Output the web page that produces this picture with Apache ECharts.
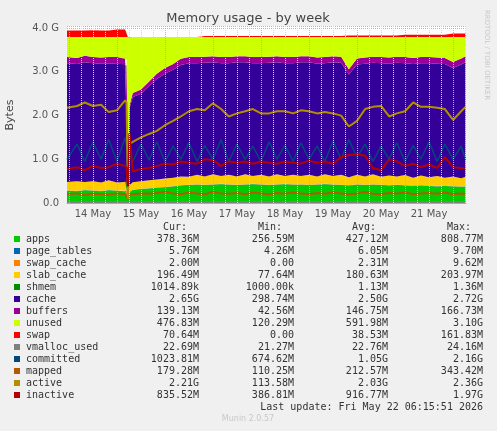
<!DOCTYPE html>
<html><head><meta charset="utf-8">
<script src="https://cdn.jsdelivr.net/npm/echarts@6/dist/echarts.min.js"></script>
<style>html,body{margin:0;padding:0;background:#F0F0F0}#c{width:497px;height:431px}</style>
</head><body><div id="c"></div>
<script>
const times=[13.96,14.17,14.33,14.5,14.67,14.83,15.0,15.17,15.2,15.23,15.26,15.33,15.5,15.67,15.83,16.0,16.17,16.33,16.5,16.67,16.83,17.0,17.17,17.33,17.5,17.67,17.83,18.0,18.17,18.33,18.5,18.67,18.83,19.0,19.17,19.33,19.5,19.67,19.83,20.0,20.17,20.33,20.5,20.67,20.83,21.0,21.17,21.33,21.5,21.67,21.83,22.0,22.17,22.26];
const apps=[.28,.27,.29,.28,.27,.29,.28,.27,.28,.10,.25,.30,.32,.33,.35,.36,.38,.40,.41,.42,.41,.42,.43,.42,.41,.42,.43,.42,.41,.42,.43,.42,.42,.41,.42,.43,.42,.41,.40,.42,.41,.42,.41,.40,.41,.40,.39,.40,.39,.38,.39,.38,.37,.38];
const page_tables=[.006,.006,.006,.006,.006,.006,.006,.006,.006,.004,.005,.005,.006,.006,.006,.006,.006,.006,.006,.006,.006,.006,.006,.006,.006,.006,.006,.006,.006,.006,.006,.006,.006,.006,.006,.006,.006,.006,.006,.006,.006,.006,.006,.006,.006,.006,.006,.006,.006,.006,.006,.006,.006,.006];
const swap_cache=[.002,.002,.002,.003,.002,.002,.002,.003,.002,0,.001,.001,.002,.002,.002,.002,.002,.002,.002,.002,.002,.002,.002,.002,.002,.002,.002,.002,.002,.002,.002,.002,.002,.002,.002,.002,.002,.002,.002,.002,.002,.002,.002,.002,.002,.002,.002,.002,.002,.002,.002,.002,.002,.002];
const slab_cache=[.19,.22,.18,.21,.19,.22,.18,.2,.2,.08,.15,.17,.17,.18,.18,.19,.19,.2,.18,.22,.19,.23,.18,.22,.19,.23,.18,.22,.19,.23,.18,.22,.19,.23,.18,.22,.19,.23,.18,.22,.19,.23,.18,.22,.19,.23,.18,.22,.19,.23,.18,.22,.19,.21];
const shmem=[.001,.001,.001,.001,.001,.001,.001,.001,.001,.001,.001,.001,.001,.001,.001,.001,.001,.001,.001,.001,.001,.001,.001,.001,.001,.001,.001,.001,.001,.001,.001,.001,.001,.001,.001,.001,.001,.001,.001,.001,.001,.001,.001,.001,.001,.001,.001,.001,.001,.001,.001,.001,.001,.001];
const cache=[2.72,2.68,2.74,2.70,2.72,2.67,2.73,2.70,2.66,0.30,1.75,1.95,2.00,2.15,2.30,2.40,2.47,2.55,2.60,2.55,2.60,2.56,2.58,2.55,2.61,2.56,2.58,2.55,2.60,2.56,2.58,2.55,2.60,2.57,2.58,2.54,2.60,2.56,2.35,2.52,2.58,2.55,2.60,2.56,2.60,2.56,2.60,2.57,2.61,2.57,2.60,2.48,2.60,2.62];
const buffers=[.14,.14,.15,.14,.14,.15,.14,.14,.14,.04,.07,.09,.10,.11,.12,.13,.13,.14,.14,.14,.14,.14,.14,.14,.14,.14,.14,.14,.14,.14,.14,.14,.14,.14,.14,.14,.14,.14,.12,.14,.14,.14,.14,.14,.14,.14,.14,.14,.14,.14,.14,.14,.14,.14];
const unused=[.46,.48,.43,.46,.47,.46,.46,.48,.51,3.27,1.57,1.28,1.20,1.02,.84,.71,.62,.50,.46,.46,.45,.44,.46,.46,.44,.44,.46,.46,.45,.44,.46,.46,.44,.44,.47,.46,.44,.45,.74,.49,.47,.45,.46,.47,.45,.46,.48,.46,.46,.47,.48,.57,.49,.44];
const swap=[.15,.15,.15,.15,.15,.15,.17,.17,.17,0,0,0,0,0,0,0,0,0,0,0,.02,.02,.02,.02,.02,.02,.02,.02,.02,.02,.02,.02,.02,.02,.02,.02,.02,.02,.035,.035,.035,.035,.035,.035,.035,.05,.05,.05,.05,.05,.05,.08,.08,.08];
const vmalloc_used=[.023,.023,.023,.023,.023,.023,.023,.023,.023,.021,.022,.022,.023,.023,.023,.023,.023,.023,.023,.023,.023,.023,.023,.023,.023,.023,.023,.023,.023,.023,.023,.023,.023,.023,.023,.023,.023,.023,.023,.023,.023,.023,.023,.023,.023,.023,.023,.023,.023,.023,.023,.023,.023,.023];
const committed=[1.0,1.35,0.95,1.4,1.0,1.45,0.95,1.5,1.3,0.7,1.1,0.95,1.35,0.98,1.4,0.95,1.3,1.0,1.38,0.95,1.32,1.0,1.45,0.95,1.35,1.0,1.3,0.95,1.4,1.0,1.32,0.95,1.38,1.0,1.3,0.95,1.42,1.0,1.45,1.05,1.35,0.95,1.3,1.0,1.38,0.95,1.32,1.0,1.4,0.95,1.35,1.0,1.3,1.0];
const mapped=[.2,.22,.18,.21,.2,.19,.22,.2,.2,.1,.18,.2,.22,.21,.23,.25,.22,.2,.24,.22,.2,.25,.22,.21,.23,.2,.24,.22,.2,.23,.21,.24,.22,.2,.23,.21,.24,.22,.2,.22,.25,.21,.2,.23,.22,.24,.2,.22,.23,.21,.24,.2,.22,.21];
const active=[2.18,2.22,2.3,2.22,2.25,2.08,2.12,2.35,2.3,.1,1.35,1.4,1.5,1.58,1.65,1.78,1.88,1.98,2.1,2.15,2.12,2.28,2.15,1.98,2.05,2.1,2.15,2.05,2.05,2.1,2.1,2.05,2.12,2.1,2.05,2.08,2.05,2.0,1.75,1.88,2.15,2.2,2.22,1.98,2.05,2.1,2.3,2.2,2.2,2.18,2.15,1.9,2.1,2.2];
const inactive=[.78,.82,.75,.85,.8,.82,.9,.85,.8,.38,1.6,.72,.78,.8,.85,.9,.88,.95,.92,.9,1.0,.98,.85,.95,.92,.95,.9,.95,.92,.9,.95,.92,.9,.97,.92,.95,.9,1.05,1.1,1.12,1.08,.8,.75,1.0,.95,.85,.9,.82,.88,.8,1.05,.82,.8,.78];
const dayLabels=['14 May','15 May','16 May','17 May','18 May','19 May','20 May','21 May'];
const dayLabelPos=[14.5,15.5,16.5,17.5,18.5,19.5,20.5,21.5];
const yTicks=['0.0','1.0 G','2.0 G','3.0 G','4.0 G'];
const legendRows=[
['apps','#00CC00','378.36M','256.59M','427.12M','808.77M'],
['page_tables','#0066B3','5.76M','4.26M','6.05M','9.70M'],
['swap_cache','#FF8000','2.00M','0.00','2.31M','9.62M'],
['slab_cache','#FFCC00','196.49M','77.64M','180.63M','203.97M'],
['shmem','#008F00','1014.89k','1000.00k','1.13M','1.36M'],
['cache','#330099','2.65G','298.74M','2.50G','2.72G'],
['buffers','#990099','139.13M','42.56M','146.75M','166.73M'],
['unused','#CCFF00','476.83M','120.29M','591.98M','3.10G'],
['swap','#FF0000','70.64M','0.00','38.53M','161.83M'],
['vmalloc_used','#808080','22.69M','21.27M','22.76M','24.16M'],
['committed','#00487D','1023.81M','674.62M','1.05G','2.16G'],
['mapped','#B35A00','179.28M','110.25M','212.57M','343.42M'],
['active','#B38F00','2.21G','113.58M','2.03G','2.36G'],
['inactive','#B30000','835.52M','386.81M','916.77M','1.97G']];

const DAY=86400000, BASE=Date.UTC(2026,4,0);
const ms=d=>BASE+d*DAY;
const pair=a=>a.map((v,i)=>[ms(times[i]),v]);
const areas=[['apps',apps,'#00CC00'],['page_tables',page_tables,'#0066B3'],['swap_cache',swap_cache,'#FF8000'],['slab_cache',slab_cache,'#FFCC00'],['shmem',shmem,'#008F00'],['cache',cache,'#330099'],['buffers',buffers,'#990099'],['unused',unused,'#CCFF00'],['swap',swap,'#FF0000']];
const lines=[['vmalloc_used',vmalloc_used,'#808080'],['committed',committed,'#00487D'],['mapped',mapped,'#B35A00'],['active',active,'#B38F00'],['inactive',inactive,'#B30000']];
const series=[];
areas.forEach(([n,d,c])=>series.push({name:n,type:'line',stack:'m',data:pair(d),showSymbol:false,lineStyle:{width:0},areaStyle:{color:c,opacity:1},itemStyle:{color:c},z:2}));
lines.forEach(([n,d,c])=>series.push({name:n,type:'line',data:pair(d),showSymbol:false,lineStyle:{width:n==='committed'?1.5:2,color:c},itemStyle:{color:c},z:3}));
const vl=[];
for(let d=14;d<=22.25;d+=0.25){vl.push({xAxis:ms(d),lineStyle:{color:Number.isInteger(d)?'#e8a0a0':'#d8d8d8',type:'dotted',width:1}});}
series[series.length-1].markLine={silent:true,symbol:'none',label:{show:false},data:vl};

const g=[];
const T=(x,y,t,o)=>g.push({type:'text',x:x,y:y,style:Object.assign({text:t,fill:'#333',font:'10px "DejaVu Sans Mono"',verticalAlign:'top'},o||{})});
const R=(x,y,t,o)=>T(x,y,t,Object.assign({align:'right'},o||{}));
R(187,222,'Cur:');R(282,222,'Min:');R(376,222,'Avg:');R(471,222,'Max:');
legendRows.forEach((r,i)=>{const y=234+i*12;
 g.push({type:'rect',shape:{x:14,y:y+2,width:6,height:6},style:{fill:r[1]}});
 T(26,y,r[0]);R(199,y,r[2]);R(294,y,r[3]);R(388,y,r[4]);R(483,y,r[5]);});
R(483,402,'Last update: Fri May 22 06:15:51 2026');
g.push({type:'text',x:248,y:415,style:{text:'Munin 2.0.57',fill:'#c8c8c8',font:'8px "DejaVu Sans"',align:'center'}});
g.push({type:'text',x:248,y:12,style:{text:'Memory usage - by week',fill:'#444',font:'13px "DejaVu Sans"',align:'center'}});
g.push({type:'text',x:10,y:115,rotation:Math.PI/2,style:{text:'Bytes',fill:'#444',font:'11px "DejaVu Sans"',align:'center',verticalAlign:'middle'}});
g.push({type:'text',x:487,y:55,rotation:-Math.PI/2,style:{text:'RRDTOOL / TOBI OETIKER',fill:'#c8c8c8',font:'7px "DejaVu Sans"',align:'center',verticalAlign:'middle'}});

const chart=echarts.init(document.getElementById('c'));
chart.setOption({animation:false,backgroundColor:'#F0F0F0',
grid:{left:67,right:31,top:26,bottom:228,backgroundColor:'#fff',show:true,borderWidth:0},
xAxis:[{type:'time',min:ms(13.96),max:ms(22.27),splitLine:{show:false},axisTick:{show:false},axisLabel:{show:false},
 axisLine:{lineStyle:{color:'#aaa'}}},
 {type:'value',position:'bottom',min:13.96,max:22.27,splitLine:{show:false},axisTick:{show:false},axisLine:{show:false},
 axisLabel:{customValues:dayLabelPos,color:'#555',fontFamily:'DejaVu Sans',fontSize:10,margin:6,
  formatter:v=>{let b=0,bd=1e9;dayLabelPos.forEach((m,i)=>{if(Math.abs(m-v)<bd){bd=Math.abs(m-v);b=i;}});return dayLabels[b];}}}],
yAxis:{type:'value',min:0,max:4.05,interval:1,axisLine:{show:false},axisTick:{show:false},
 axisLabel:{color:'#555',fontFamily:'DejaVu Sans',fontSize:10,formatter:v=>{const i=Math.round(v);return Math.abs(v-i)<1e-6?yTicks[i]:'';},showMaxLabel:false},
 splitLine:{lineStyle:{color:'#e8a0a0',type:'dotted'}},
 minorTick:{show:false,splitNumber:5},minorSplitLine:{show:true,lineStyle:{color:'#d8d8d8',type:'dotted'}}},
series:series,graphic:g});
</script></body></html>
